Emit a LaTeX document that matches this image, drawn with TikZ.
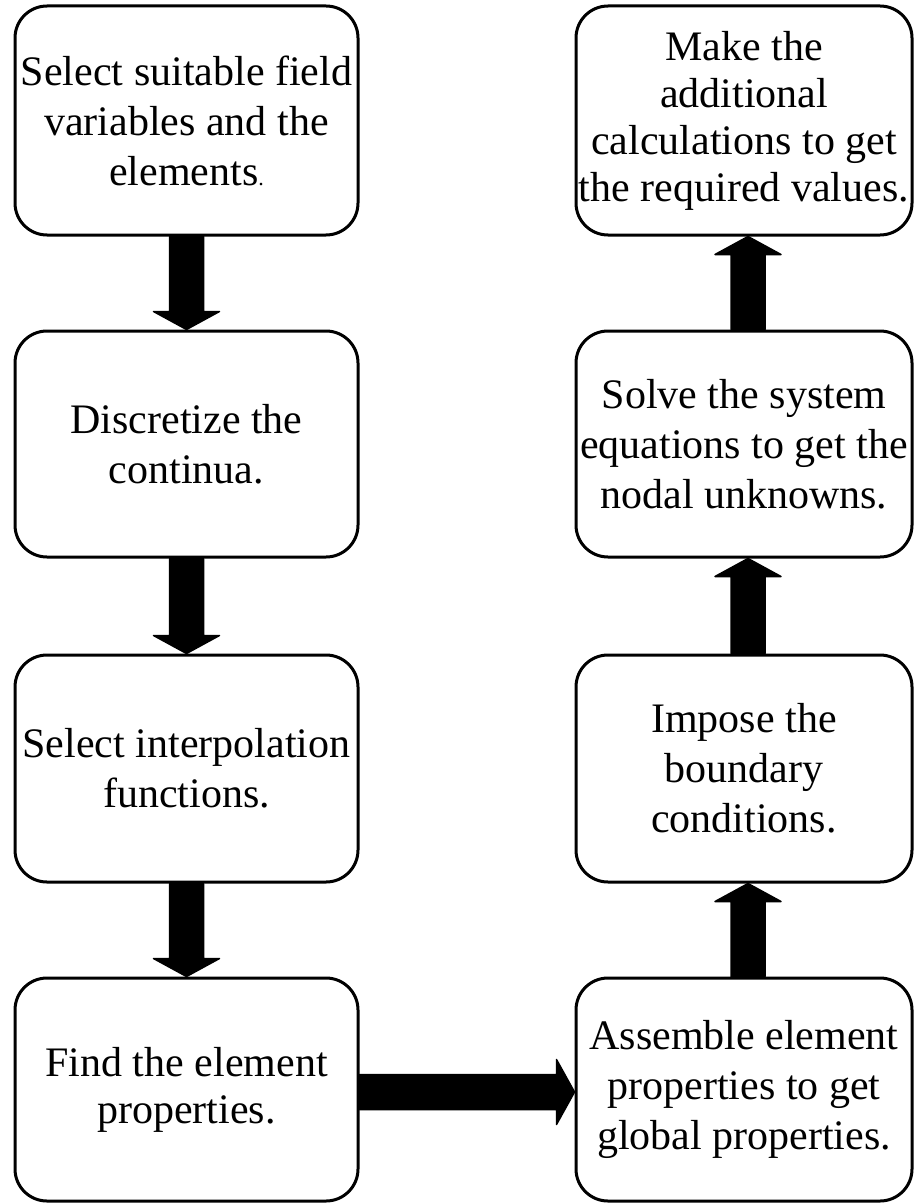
\documentclass[tikz,border=0pt]{standalone}
\usepackage{fontspec}
\setmainfont{Liberation Serif}
\usetikzlibrary{calc}

\tikzset{
  stepbox/.style={draw=black, line width=3pt, rectangle, rounded corners=32pt,
    inner sep=0pt, align=center, fill=white,
    font=\fontsize{42}{50}\selectfont},
  tightlines/.style={font=\fontsize{42}{47}\selectfont},
  leftbox/.style={stepbox, minimum width=343pt},
  rightbox/.style={stepbox, minimum width=336pt},
  blockarrow/.style={fill=black, draw=black, line width=1.5pt, line join=round}
}

% vertical block arrow: from, to, signed head length (pt, canvas y up)
\newcommand\blockarrowV[3]{%
  \filldraw[blockarrow] let \p1=(#1), \p2=(#2) in
    ({\x1-17pt},\y1) -- ({\x1-17pt},{\y2+(#3)*1pt}) -- ({\x1-33pt},{\y2+(#3)*1pt})
    -- (\x1,\y2) -- ({\x1+33pt},{\y2+(#3)*1pt}) -- ({\x1+17pt},{\y2+(#3)*1pt})
    -- ({\x1+17pt},\y1) -- cycle;}

% horizontal block arrow pointing right: from, to
\newcommand\blockarrowH[2]{%
  \filldraw[blockarrow] let \p1=(#1), \p2=(#2) in
    (\x1,{\y1+17.5pt}) -- ({\x2-18pt},{\y1+17.5pt}) -- ({\x2-18pt},{\y1+32.5pt})
    -- (\x2,\y1) -- ({\x2-18pt},{\y1-32.5pt}) -- ({\x2-18pt},{\y1-17.5pt})
    -- (\x1,{\y1-17.5pt}) -- cycle;}

\begin{document}
\begin{tikzpicture}[x=1pt, y=-1pt]
\useasboundingbox (0,0) rectangle (915,1204);

% left column
\node[leftbox, minimum height=229pt] (L1) at (186.5,120.5)
  {Select suitable field\\variables and the\\elements{\fontsize{22}{22}\selectfont.}};
\node[leftbox, minimum height=226pt] (L2) at (186.5,444)
  {Discretize the\\continua.};
\node[leftbox, minimum height=227pt] (L3) at (186.5,768.5)
  {Select interpolation\\functions.};
\node[leftbox, tightlines, minimum height=223pt] (L4) at (186.5,1089.5)
  {Find the element\\properties.};

% right column
\node[rightbox, tightlines, minimum height=229pt] (R1) at (744,120.5)
  {Make the\\additional\\calculations to get\\the required values.};
\node[rightbox, minimum height=226pt] (R2) at (744,444)
  {Solve the system\\equations to get the\\nodal unknowns.};
\node[rightbox, minimum height=227pt] (R3) at (744,768.5)
  {Impose the\\boundary\\conditions.};
\node[rightbox, minimum height=223pt] (R4) at (744,1089.5)
  {Assemble element\\properties to get\\global properties.};

% flow downwards on the left
\blockarrowV{L1.south}{L2.north}{18}
\blockarrowV{L2.south}{L3.north}{18}
\blockarrowV{L3.south}{L4.north}{18}

% across the bottom
\blockarrowH{$(L4.east)+(0,2.5)$}{$(R4.west)+(0,2.5)$}

% flow upwards on the right
\blockarrowV{$(R4.north)+(4,0)$}{$(R3.south)+(4,0)$}{-18}
\blockarrowV{$(R3.north)+(4,0)$}{$(R2.south)+(4,0)$}{-18}
\blockarrowV{$(R2.north)+(4,0)$}{$(R1.south)+(4,0)$}{-18}
\end{tikzpicture}
\end{document}
